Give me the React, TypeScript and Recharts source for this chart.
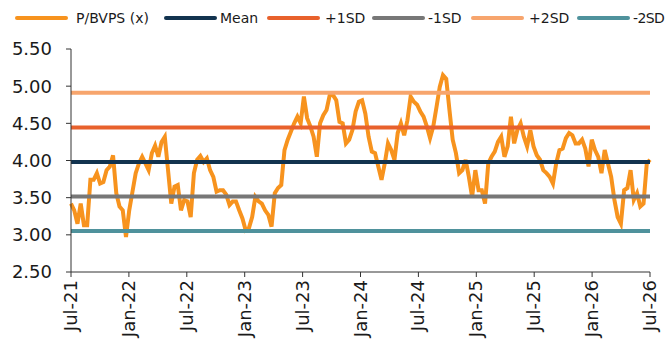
import React from 'react';
import { LineChart, Line, XAxis, YAxis } from 'recharts';

// P/BVPS readings, Jul-21 .. Jul-26, evenly spaced
const pbvps: number[] = [
  // Jul-21 -> Apr-22
  3.42, 3.33, 3.15, 3.42, 3.13, 3.13, 3.74, 3.74, 3.83, 3.69,
  3.71, 3.87, 3.92, 4.07, 3.56, 3.38, 3.33, 2.97, 3.33, 3.58,
  3.83, 3.96, 4.05, 3.96, 3.87, 4.10, 4.20, 4.05, 4.25,
  // Apr-22 -> Feb-23
  4.32, 3.87, 3.42, 3.65, 3.67, 3.33, 3.47, 3.45, 3.24, 3.83,
  4.01, 4.06, 3.98, 4.03, 3.87, 3.78, 3.58, 3.60, 3.60, 3.54,
  3.40, 3.45, 3.45, 3.33, 3.22, 3.06, 3.09, 3.24, 3.51, 3.45,
  // Feb-23 -> Jan-24
  3.42, 3.33, 3.27, 3.11, 3.56, 3.63, 3.67, 4.14, 4.28, 4.39,
  4.50, 4.59, 4.50, 4.86, 4.57, 4.46, 4.32, 4.05, 4.50, 4.61,
  4.68, 4.88, 4.88, 4.81, 4.52, 4.50, 4.23, 4.28, 4.41, 4.66,
  // Jan-24 -> Aug-24
  4.79, 4.81, 4.63, 4.32, 4.12, 4.10, 3.92, 3.74, 3.96, 4.23,
  4.14, 4.01, 4.37, 4.50, 4.34, 4.54, 4.86, 4.79, 4.75, 4.66,
  4.59, 4.46, 4.30, 4.46, 4.72, 4.99, 5.15, 5.10, 4.68, 4.28,
  // Aug-24 -> Jul-25
  4.10, 3.83, 3.87, 4.01, 3.78, 3.51, 3.87, 3.60, 3.60, 3.42,
  3.96, 4.05, 4.12, 4.25, 4.32, 4.05, 4.19, 4.59, 4.23, 4.41,
  4.50, 4.32, 4.19, 4.41, 4.19, 4.07, 4.01, 3.87, 3.83, 3.78,
  // Jul-25 -> Jul-26
  3.69, 3.96, 4.14, 4.16, 4.30, 4.37, 4.34, 4.23, 4.23, 4.28,
  4.16, 3.92, 4.28, 4.14, 4.05, 3.83, 4.14, 3.96, 3.78, 3.47,
  3.24, 3.15, 3.60, 3.63, 3.87, 3.47, 3.56, 3.38, 3.42, 3.96,
  4.01,
];

const MEAN = 3.98;
const PLUS_1SD = 4.445;
const MINUS_1SD = 3.515;
const PLUS_2SD = 4.91;
const MINUS_2SD = 3.05;

const tickMonths = [0, 6, 12, 18, 24, 30, 36, 42, 48, 54, 60];
const tickLabels = ['Jul-21', 'Jan-22', 'Jul-22', 'Jan-23', 'Jul-23', 'Jan-24', 'Jul-24', 'Jan-25', 'Jul-25', 'Jan-26', 'Jul-26'];
const yTicks = [2.5, 3, 3.5, 4, 4.5, 5, 5.5];

const series = [
  { key: 'pbvps', name: 'P/BVPS (x)', color: '#F7931E' },
  { key: 'mean', name: 'Mean', color: '#12334F' },
  { key: 'p1', name: '+1SD', color: '#E8612C' },
  { key: 'm1', name: '-1SD', color: '#777777' },
  { key: 'p2', name: '+2SD', color: '#F7A56D' },
  { key: 'm2', name: '-2SD', color: '#4F929C' },
];

const data = pbvps.map((v, i) => ({
  t: (i * 60) / (pbvps.length - 1),
  pbvps: v,
  mean: MEAN,
  p1: PLUS_1SD,
  m1: MINUS_1SD,
  p2: PLUS_2SD,
  m2: MINUS_2SD,
}));

const FONT = '"DejaVu Sans", Verdana, sans-serif';

// legend placement (swatch left, text left)
const legendPos = [
  [15, 77], [164, 221], [267, 326], [372, 429], [471, 530], [577, 634],
];

const XTick = (props: any) => {
  const { x, y, payload } = props;
  const idx = tickMonths.indexOf(payload.value);
  return (
    <text
      x={x}
      y={y}
      transform={`rotate(-90 ${x} ${y})`}
      textAnchor="end"
      dx={-1}
      dy={6}
      fontSize={18}
      fontFamily={FONT}
      fill="#1a1a1a"
    >
      {tickLabels[idx]}
    </text>
  );
};

export default function App() {
  return (
    <div style={{ position: 'absolute', left: 0, top: 0, width: 666, height: 345, background: '#fff', overflow: 'hidden' }}>
      {series.map((s, i) => (
        <div key={s.key} style={{ position: 'absolute', top: 9, left: legendPos[i][0], height: 18, fontFamily: FONT, fontSize: 14, color: '#1a1a1a' }}>
          <div style={{ position: 'absolute', left: 0, top: 7, width: 53, height: 4, borderRadius: 2, background: s.color }} />
          <div
            style={{
              position: 'absolute',
              left: legendPos[i][1] - legendPos[i][0] - 1,
              top: 0,
              whiteSpace: 'nowrap',
              lineHeight: '18px',
              letterSpacing: i === series.length - 1 ? '-0.6px' : undefined,
            }}
          >
            {s.name}
          </div>
        </div>
      ))}
      <LineChart width={666} height={345} data={data} margin={{ top: 49, right: 16, left: 0, bottom: 0 }}>
        <XAxis
          dataKey="t"
          type="number"
          domain={[0, 60]}
          ticks={tickMonths}
          height={73}
          interval={0}
          stroke="#333"
          tickSize={5}
          tick={<XTick />}
        />
        <YAxis
          type="number"
          domain={[2.5, 5.5]}
          ticks={yTicks}
          width={71}
          interval={0}
          stroke="#333"
          tickSize={5}
          tickMargin={14}
          tickFormatter={(v: number) => v.toFixed(2)}
          tick={{ fontSize: 18, fontFamily: FONT, fill: '#1a1a1a' }}
        />
        {series.map(s => (
          <Line
            key={s.key}
            type="linear"
            dataKey={s.key}
            name={s.name}
            stroke={s.color}
            strokeWidth={4}
            dot={false}
            activeDot={false}
            isAnimationActive={false}
          />
        ))}
      </LineChart>
    </div>
  );
}
